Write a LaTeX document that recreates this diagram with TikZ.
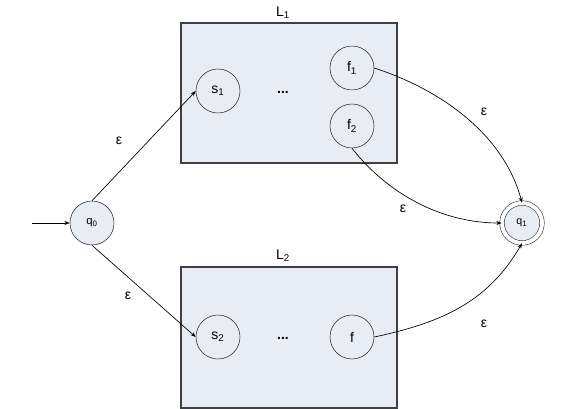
\documentclass[tikz,border=0pt]{standalone}
\usepackage{fontspec}
\setmainfont{Liberation Sans}
\usetikzlibrary{arrows.meta}
\definecolor{boxfill}{RGB}{232,236,245}
\tikzset{
	state/.style={draw=black!85, circle, minimum size=33pt, inner sep=0pt, font=\fontsize{10.5}{12}\selectfont},
	machine/.style={draw=black!75, line width=0.8pt, fill=boxfill},
	trans/.style={-{Stealth[length=4pt,width=3pt]}, line width=0.5pt},
	lbl/.style={inner sep=0.75pt, font=\fontsize{10.5}{12}\selectfont},
}
\begin{document}
\begin{tikzpicture}[x=0.75pt,y=0.75pt,yscale=-1,xscale=1]
	\useasboundingbox (0,0) rectangle (577,409);
	\draw [machine] (181,23) rectangle (397,163) ;
	\draw [machine] (181,267) rectangle (397,408) ;
	\draw (283,13) node [lbl] (L1) {L\textsubscript{1}};
	\draw (283,256) node [lbl] (L2) {L\textsubscript{2}};
	% states
	\node [state, fill=boxfill, font=\fontsize{8.5}{10}\selectfont] (q0) at (92,223) {q\textsubscript{0}};
	\node [state, minimum size=30pt, double, double distance=3pt, fill=boxfill, font=\fontsize{8}{10}\selectfont] (q1) at (522,223) {q\textsubscript{1}};
	\node [state] (s1) at (218,91) {s\textsubscript{1}};
	\node [state] (f1) at (352,68) {f\textsubscript{1}};
	\node [state] (f2) at (352,126) {f\textsubscript{2}};
	\node [state] (s2) at (218,337) {s\textsubscript{2}};
	\node [state] (f) at (352,337) {f};
	\draw (283,92) node [lbl] (dots1) {\textbf{...}};
	\draw (283,338) node [lbl] (dots2) {\textbf{...}};
	% transitions
	\coordinate (start) at (32,223);
	\draw [trans] (start) -- (q0) ;
	\draw [trans] (q0.north) -- (s1.west) ;
	\draw [trans] (q0.south) -- (s2.west) ;
	\draw [trans] (f1.east) to [out=18,in=-105,looseness=0.9] (q1.north) ;
	\draw [trans] (f2.south) to [out=52,in=180,looseness=0.9] (q1.west) ;
	\draw [trans] (f.east) to [out=-12,in=120] (q1.south) ;
	\draw (119,141) node [lbl] (e1) {ε};
	\draw (128,296) node [lbl] (e2) {ε};
	\draw (484,112) node [lbl] (e3) {ε};
	\draw (403,209) node [lbl] (e4) {ε};
	\draw (484,324) node [lbl] (e5) {ε};
\end{tikzpicture}
\end{document}
